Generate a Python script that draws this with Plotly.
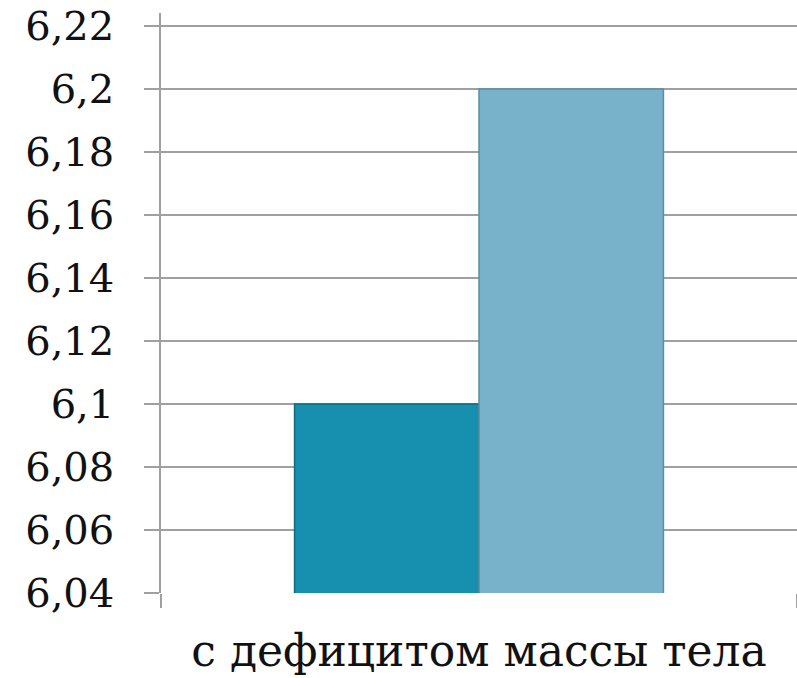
import plotly.graph_objects as go

categories = ["с дефицитом массы тела"]
series1_values = [6.1]
series2_values = [6.2]
series1_name = "Ряд 1"
series2_name = "Ряд 2"
y_tick_values = [6.04, 6.06, 6.08, 6.1, 6.12, 6.14, 6.16, 6.18, 6.2, 6.22]
y_tick_labels = ["6,04", "6,06", "6,08", "6,1", "6,12", "6,14", "6,16", "6,18", "6,2", "6,22"]

FONT = "DejaVu Serif"

fig = go.Figure()
fig.add_trace(go.Bar(
    x=categories, y=series1_values, name=series1_name,
    marker=dict(color="#1690ae", line=dict(color="#0f6a82", width=1.5)),
))
fig.add_trace(go.Bar(
    x=categories, y=series2_values, name=series2_name,
    marker=dict(color="#77b2ca", line=dict(color="#5a8ea3", width=1.5)),
))

fig.update_layout(
    width=797, height=678,
    margin=dict(l=161, r=0, t=13, b=85),
    paper_bgcolor="white", plot_bgcolor="white",
    barmode="group", bargap=0.42, bargroupgap=0,
    showlegend=False,
    font=dict(family=FONT, color="#111111"),
)
fig.update_yaxes(
    range=[6.04, 6.22413], tickvals=y_tick_values, ticktext=y_tick_labels,
    showgrid=True, gridcolor="#a0a0a0", gridwidth=1.5,
    showline=True, linecolor="#a0a0a0", linewidth=1.5,
    ticks="outside", ticklen=15, tickcolor="#a0a0a0", tickwidth=1.5,
    tickfont=dict(size=40, family=FONT), ticklabelstandoff=22,
    ticklabeloverflow="allow", automargin=False,
    zeroline=False,
)
fig.update_xaxes(
    showline=False, ticks="outside", tickson="boundaries", ticklen=14,
    tickcolor="#a0a0a0", tickwidth=1.5,
    tickfont=dict(size=44, family=FONT), ticklabelstandoff=28,
    automargin=False,
)
fig.write_html(
    "out.html",
    config={"displayModeBar": False},
    post_script="document.body.style.margin='0';document.body.style.overflow='hidden';",
)
